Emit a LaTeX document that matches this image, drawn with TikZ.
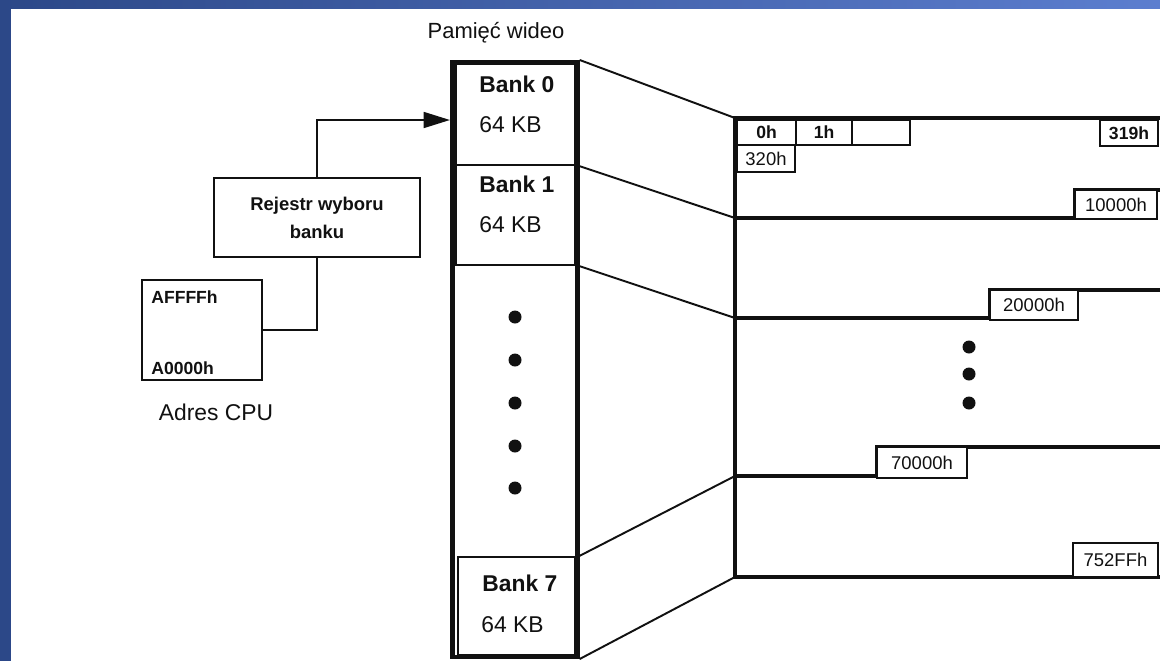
\documentclass[tikz,border=0pt]{standalone}
\usepackage{fontspec}
\setmainfont{Liberation Sans}
\usetikzlibrary{arrows.meta}
\definecolor{slidedark}{HTML}{2C4888}
\definecolor{slidelight}{HTML}{5C7ECF}
\definecolor{scanink}{HTML}{111111}

\begin{document}
\begin{tikzpicture}[
  x=0.02cm,
  y=-0.02cm,
  every node/.style={font=\fontsize{13}{15}\selectfont, text=scanink},
  framebox/.style={draw=scanink, line width=1.3pt, inner sep=0pt},
  banklabel/.style={anchor=west, inner sep=0pt, font=\bfseries\fontsize{13}{15}\selectfont},
  banksize/.style={anchor=west, inner sep=0pt},
  addrbox/.style={draw=scanink, line width=1.6pt, fill=white, inner sep=0pt, font=\fontsize{10.5}{12}\selectfont},
  mapline/.style={draw=scanink, line width=2.4pt},
  link/.style={draw=scanink, line width=1.1pt}
]
  % Slide background
  \useasboundingbox (0,0) rectangle (1160,660);
  \fill[left color=slidedark, right color=slidelight] (0,0) rectangle (1160,660);
  \fill[white] (11,9) rectangle (1170,670);

  % CPU side
  \node[framebox, minimum width=24mm, minimum height=20mm] (cpu) at (202,330) {};
  \node[anchor=west, inner sep=0pt, font=\bfseries\fontsize{10}{12}\selectfont] (cputop) at (151,297) {AFFFFh};
  \node[anchor=west, inner sep=0pt, font=\bfseries\fontsize{10}{12}\selectfont] (cpubot) at (151,368) {A0000h};
  \node (cpulabel) at (216,412) {Adres CPU};

  \node[framebox, minimum width=41.2mm, minimum height=15.8mm, align=center,
        font=\bfseries\fontsize{10.5}{16}\selectfont] (reg) at (317,217.5) {Rejestr wyboru\\banku};

  % Bank column
  \node[font=\fontsize{12.5}{15}\selectfont] (title) at (496,33) {Pamięć wideo};
  \node[draw=scanink, line width=2.4pt, inner sep=0pt, minimum width=25mm, minimum height=119mm] (column) at (515,359.5) {};
  \node[framebox, minimum width=23.8mm, minimum height=20.2mm] (bank0) at (515.5,114.5) {};
  \node[framebox, minimum width=23.8mm, minimum height=20mm] (bank1) at (515.5,215) {};
  \node[framebox, minimum width=23.4mm, minimum height=19.6mm] (bank7) at (516.5,606) {};
  \node[banklabel] at (479,84) {Bank 0};
  \node[banksize] at (479,125) {64 KB};
  \node[banklabel] at (479,184) {Bank 1};
  \node[banksize] at (479,225) {64 KB};
  \node[banklabel] at (482,583) {Bank 7};
  \node[banksize] at (481,625) {64 KB};
  \foreach \y in {317,360,403,446,488}
    \fill[scanink] (515,\y) circle (1.3mm);

  \coordinate (entry) at (450,120);
  \draw[line width=1.3pt, scanink, -{Triangle[length=15pt,width=9pt]}] (reg.north) |- (entry);
  \draw[line width=1.3pt, scanink] (reg.south) |- (cpu.east);

  % Address map
  \coordinate (m0) at (735,118);
  \coordinate (m1) at (735,218);
  \coordinate (m2) at (735,318);
  \coordinate (m3) at (735,476);
  \coordinate (m4) at (735,577);
  \draw[mapline] (735,116) -- (735,579);
  \draw[mapline] (m0) -- (1160,118);
  \draw[mapline] (m1) -- (1075,218) -- (1075,190) -- (1160,190);
  \draw[mapline] (m2) -- (990,318) -- (990,290) -- (1160,290);
  \draw[mapline] (m3) -- (877,476) -- (877,447) -- (1160,447);
  \draw[mapline] (m4) -- (1160,577);

  \node[addrbox, font=\bfseries\fontsize{10}{12}\selectfont, minimum width=11.8mm, minimum height=5mm] (a0) at (766.5,132.5) {0h};
  \node[addrbox, font=\bfseries\fontsize{10}{12}\selectfont, minimum width=11.2mm, minimum height=5mm] (a1) at (824,132.5) {1h};
  \node[addrbox, minimum width=11.6mm, minimum height=5mm] (a2) at (881,132.5) {};
  \node[addrbox, minimum width=11.6mm, minimum height=5.4mm] (a320) at (766,158.5) {320h};
  \node[addrbox, font=\bfseries\fontsize{10}{12}\selectfont, minimum width=11.6mm, minimum height=5.2mm] (a319) at (1129,133) {319h};
  \node[addrbox, minimum width=16.4mm, minimum height=5.8mm] (b1) at (1116,204.5) {10000h};
  \node[addrbox, minimum width=17.6mm, minimum height=6mm] (b2) at (1034,305) {20000h};
  \node[addrbox, minimum width=18mm, minimum height=6.2mm] (b7) at (922,462.5) {70000h};
  \node[addrbox, minimum width=17mm, minimum height=6.8mm] (bend) at (1115.5,560) {752FFh};
  \foreach \y in {347,374,403}
    \fill[scanink] (969,\y) circle (1.3mm);

  % Bank to map links
  \draw[link] (column.north east) -- (m0);
  \draw[link] (bank0.south -| column.east) -- (m1);
  \draw[link] (bank1.south -| column.east) -- (m2);
  \draw[link] (bank7.north -| column.east) -- (m3);
  \draw[link] (column.south east) -- (m4);
\end{tikzpicture}
\end{document}
